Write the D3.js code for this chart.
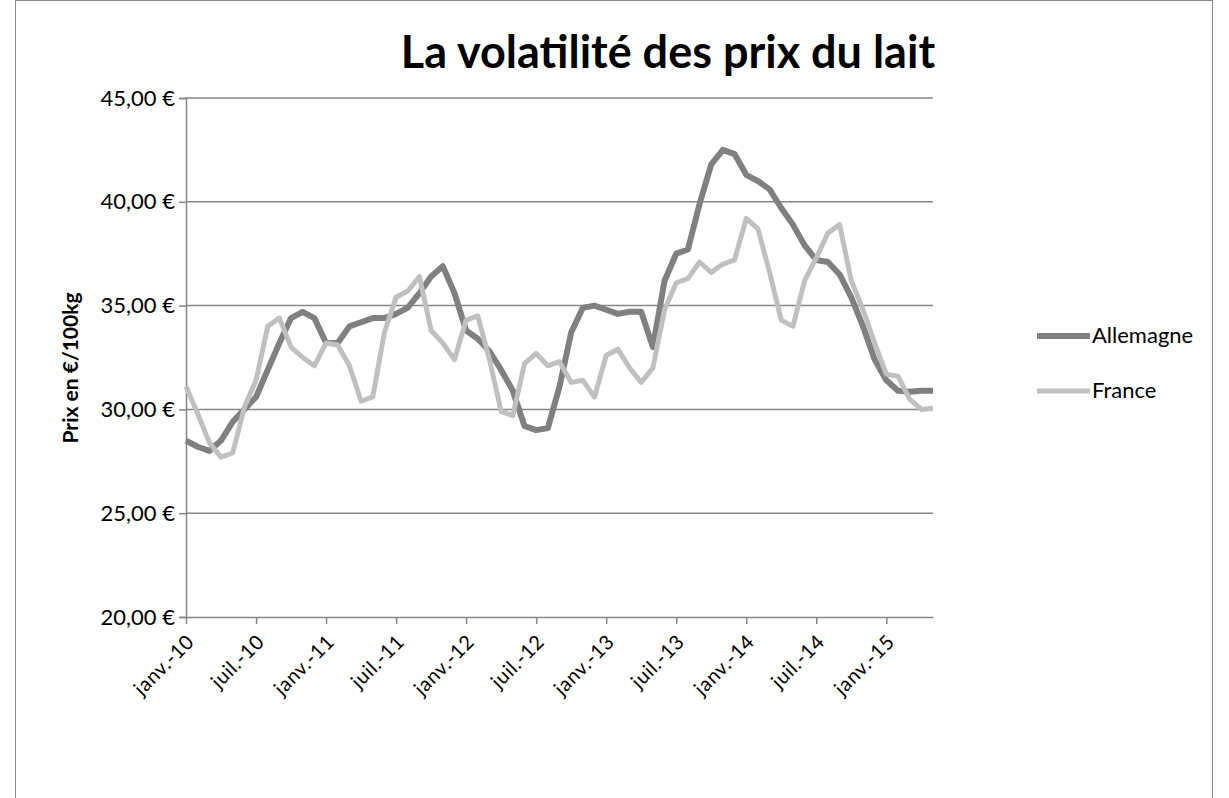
<!DOCTYPE html>
<html><head><meta charset="utf-8">
<script src="https://cdn.jsdelivr.net/npm/d3@7"></script>
<style>body{margin:0;background:#fff}svg{display:block}text{font-family:Lato,"Open Sans",sans-serif}</style>
</head><body>
<svg id="c" width="1229" height="798"></svg>
<script>
const title = "La volatilité des prix du lait";
const yTitle = "Prix en €/100kg";
const seriesNames = ["Allemagne", "France"];
const startYear = 2010, startMonth = 0;
const allemagne = [28.5,28.2,28.0,28.5,29.4,30.0,30.6,31.9,33.2,34.4,34.7,34.4,33.2,33.2,34.0,34.2,34.4,34.4,34.6,34.9,35.6,36.4,36.9,35.6,33.8,33.4,32.8,31.9,30.9,29.2,29.0,29.1,31.1,33.7,34.9,35.0,34.8,34.6,34.7,34.7,33.0,36.2,37.5,37.7,39.9,41.8,42.5,42.3,41.3,41.0,40.6,39.7,38.9,37.9,37.2,37.1,36.5,35.4,34.0,32.4,31.4,30.9,30.85,30.9,30.9];
const france = [31.1,29.8,28.4,27.7,27.9,30.1,31.4,34.0,34.4,33.0,32.5,32.1,33.2,33.1,32.1,30.4,30.6,33.7,35.4,35.7,36.4,33.8,33.2,32.4,34.3,34.5,32.4,29.9,29.7,32.2,32.7,32.1,32.3,31.3,31.4,30.6,32.6,32.9,32.0,31.3,32.0,34.8,36.1,36.3,37.1,36.6,37.0,37.2,39.2,38.7,36.6,34.3,34.0,36.2,37.3,38.5,38.9,36.2,34.8,33.2,31.7,31.6,30.5,30.0,30.05];
const yTicks = [20,25,30,35,40,45];
const monthNames = ["janv.","févr.","mars","avr.","mai","juin","juil.","août","sept.","oct.","nov.","déc."];

const svg = d3.select("#c");
const L=186, R=933, T=98, B=617;
const n = allemagne.length;
const x = d3.scaleLinear().domain([0,n-1]).range([L,R]);
const y = d3.scaleLinear().domain([20,45]).range([B,T]);

svg.append("rect").attr("x",15.5).attr("y",0.5).attr("width",1197).attr("height",830)
  .attr("fill","#fff").attr("stroke","#888").attr("stroke-width",1);

svg.append("g").selectAll("line").data(yTicks.slice(1)).join("line")
  .attr("x1",L).attr("x2",R).attr("y1",d=>y(d)).attr("y2",d=>y(d))
  .attr("stroke","#878787").attr("stroke-width",1.5);

const fmt = v => v.toFixed(2).replace(".",",") + " €";
const yAxis = d3.axisLeft(y).tickValues(yTicks).tickFormat(fmt).tickSize(7).tickPadding(5);
const gy = svg.append("g").attr("transform",`translate(${L},0)`).call(yAxis);
gy.select(".domain").attr("stroke","#878787").attr("stroke-width",1.5);
gy.selectAll(".tick line").attr("stroke","#878787").attr("stroke-width",1.5);
gy.selectAll("text").attr("font-size",22).attr("fill","#000").attr("font-family","Lato").attr("x",-11);

const tickIdx = d3.range(0,n,6);
const lbl = i => { const m=(startMonth+i)%12, yr=startYear+Math.floor((startMonth+i)/12); return monthNames[m]+"-"+String(yr%100).padStart(2,"0"); };
const xAxis = d3.axisBottom(x).tickValues(tickIdx).tickFormat(lbl).tickSize(7).tickSizeOuter(0);
const gx = svg.append("g").attr("transform",`translate(0,${B})`).call(xAxis);
gx.select(".domain").attr("stroke","#878787").attr("stroke-width",1.5);
gx.selectAll(".tick line").attr("stroke","#878787").attr("stroke-width",1.5);
gx.selectAll("text").attr("font-size",20).attr("fill","#000").attr("font-family","Lato")
  .attr("letter-spacing",0.6)
  .attr("text-anchor","end").attr("dy",0).attr("y",0)
  .attr("transform","translate(9,26) rotate(-45)");

const line = d3.line().x((d,i)=>x(i)).y(d=>y(d));
svg.append("path").datum(allemagne).attr("d",line).attr("fill","none")
  .attr("stroke","#808080").attr("stroke-width",6).attr("stroke-linejoin","round");
svg.append("path").datum(france).attr("d",line).attr("fill","none")
  .attr("stroke","#c0c0c0").attr("stroke-width",5).attr("stroke-linejoin","round");

svg.append("text").attr("x",668).attr("y",68).attr("text-anchor","middle")
  .attr("font-size",45).attr("font-weight","bold").text(title);
svg.append("text").attr("transform",`translate(78,368) rotate(-90)`)
  .attr("text-anchor","middle").attr("font-size",21).attr("font-weight","bold").text(yTitle);

const leg = svg.append("g");
const colors = ["#808080","#c0c0c0"], widths=[6,5], ly=[336,391];
seriesNames.forEach((s,i)=>{
  leg.append("line").attr("x1",1037).attr("x2",1090).attr("y1",ly[i]).attr("y2",ly[i])
    .attr("stroke",colors[i]).attr("stroke-width",widths[i]);
  leg.append("text").attr("x",1092).attr("y",ly[i]+7).attr("font-size",22).text(s);
});
</script>
</body></html>
